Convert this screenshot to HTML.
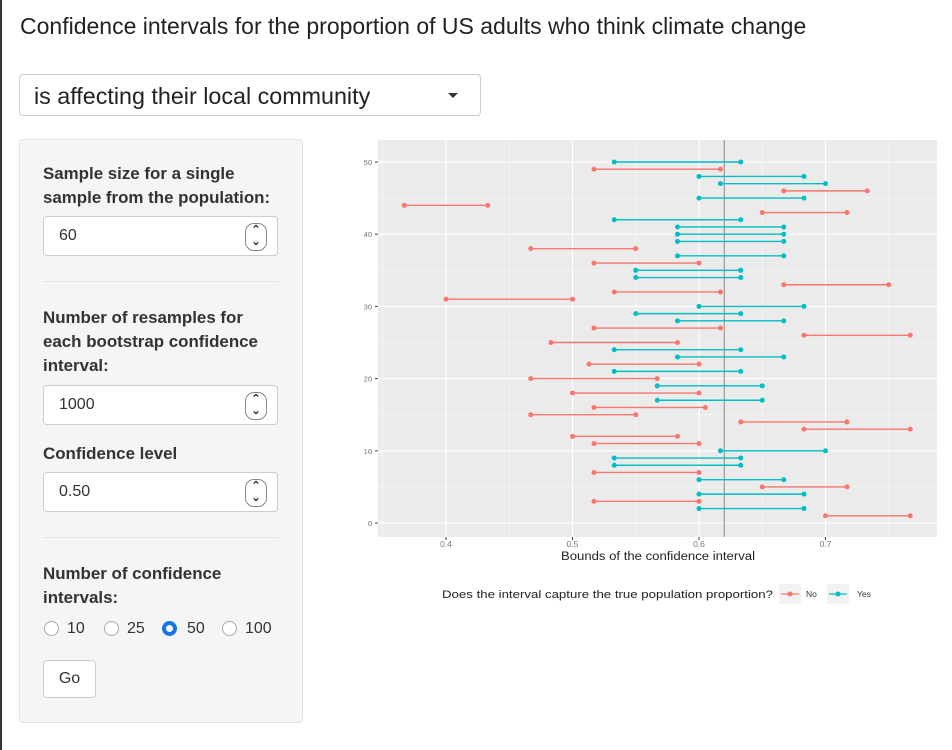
<!DOCTYPE html>
<html><head><meta charset="utf-8">
<style>
body{margin:0;width:952px;height:750px;background:#fff;font-family:"Liberation Sans",sans-serif;position:relative;overflow:hidden;color:#333}
.abs{position:absolute}
.lbl{position:absolute;left:43px;font-weight:bold;font-size:16.9px;line-height:24px;color:#333;white-space:nowrap}
.inp{position:absolute;left:43px;width:235px;height:40px;border:1px solid #ccc;border-radius:4px;background:#fff;box-sizing:border-box}
.inp span{position:absolute;left:15px;top:10px;font-size:16px}
.spin{position:absolute;right:10px;top:6px;width:20px;height:26px;border:1px solid #888;border-radius:9px;font-size:11px;font-weight:bold;text-align:center;line-height:12px;background:#fff}
.hr{position:absolute;left:43px;width:235px;height:1px;background:#e5e5e5}
.radio{position:absolute;top:621px;width:15px;height:15px;border:1px solid #aaa;border-radius:50%;background:#fff;box-sizing:border-box}
.rl{position:absolute;top:620px;font-size:16px}
</style></head><body>
<div class="abs" style="left:0;top:0;width:2px;height:750px;background:#333"></div>
<div class="abs" style="left:20px;top:13px;font-size:23px;color:#222;white-space:nowrap">Confidence intervals for the proportion of US adults who think climate change</div>
<div class="abs" style="left:19px;top:74px;width:462px;height:42px;border:1px solid #ccc;border-radius:4px;box-sizing:border-box">
<span class="abs" style="left:14px;top:8px;font-size:23.3px;color:#222;white-space:nowrap">is affecting their local community</span>
<span class="abs" style="left:428px;top:18px;width:0;height:0;border-left:5px solid transparent;border-right:5px solid transparent;border-top:5px solid #333"></span>
</div>
<div class="abs" style="left:19px;top:139px;width:284px;height:584px;background:#f5f5f5;border:1px solid #e3e3e3;border-radius:4px;box-sizing:border-box"></div>
<div class="lbl" style="top:162px">Sample size for a single<br>sample from the population:</div>
<div class="inp" style="top:216px"><span>60</span><div class="spin">&#8963;<br>&#8964;</div></div>
<div class="hr" style="top:281px"></div>
<div class="lbl" style="top:306px">Number of resamples for<br>each bootstrap confidence<br>interval:</div>
<div class="inp" style="top:385px"><span>1000</span><div class="spin">&#8963;<br>&#8964;</div></div>
<div class="lbl" style="top:442px">Confidence level</div>
<div class="inp" style="top:472px"><span>0.50</span><div class="spin">&#8963;<br>&#8964;</div></div>
<div class="hr" style="top:537px"></div>
<div class="lbl" style="top:562px">Number of confidence<br>intervals:</div>
<div class="radio" style="left:44px"></div><span class="rl" style="left:67px">10</span>
<div class="radio" style="left:104px"></div><span class="rl" style="left:127px">25</span>
<div class="radio" style="left:162px;border:4.5px solid #1a73e8"></div><span class="rl" style="left:187px">50</span>
<div class="radio" style="left:222px"></div><span class="rl" style="left:245px">100</span>
<div class="abs" style="left:43px;top:660px;width:53px;height:38px;border:1px solid #ccc;border-radius:4px;background:#fff;box-sizing:border-box;font-size:16px;text-align:center;line-height:36px">Go</div>

<svg class="abs" style="left:0;top:0" width="952" height="750" id="chart"></svg>
<script>
const rowIds=[50,49,48,47,46,45,44,43,42,41,40,39,38,37,36,35,34,33,32,31,30,29,28,27,26,25,24,23,22,21,20,19,18,17,16,15,14,13,12,11,10,9,8,7,6,5,4,3,2,1];
const lowers=[0.533,0.517,0.6,0.617,0.667,0.6,0.367,0.65,0.533,0.583,0.583,0.583,0.467,0.583,0.517,0.55,0.55,0.667,0.533,0.4,0.6,0.55,0.583,0.517,0.683,0.483,0.533,0.583,0.513,0.533,0.467,0.567,0.5,0.567,0.517,0.467,0.633,0.683,0.5,0.517,0.617,0.533,0.533,0.517,0.6,0.65,0.6,0.517,0.6,0.7];
const uppers=[0.633,0.617,0.683,0.7,0.733,0.683,0.433,0.717,0.633,0.667,0.667,0.667,0.55,0.667,0.6,0.633,0.633,0.75,0.617,0.5,0.683,0.633,0.667,0.617,0.767,0.583,0.633,0.667,0.6,0.633,0.567,0.65,0.6,0.65,0.605,0.55,0.717,0.767,0.583,0.6,0.7,0.633,0.633,0.6,0.667,0.717,0.683,0.6,0.683,0.767];
const captures=["Yes","No","Yes","Yes","No","Yes","No","No","Yes","Yes","Yes","Yes","No","Yes","No","Yes","Yes","No","No","No","Yes","Yes","Yes","No","No","No","Yes","Yes","No","Yes","No","Yes","No","Yes","No","No","No","No","No","No","Yes","Yes","Yes","No","Yes","No","Yes","No","Yes","No"];
const xTicks=[0.4,0.5,0.6,0.7];
const yTicks=[0,10,20,30,40,50];
const trueP=0.62;
const NS="http://www.w3.org/2000/svg";
const svg=document.getElementById('chart');
const X0=378,X1=937,Y0=140,Y1=537;
const xs=v=>446+(v-0.4)*1265;
const ys=v=>523-v*7.22;
function mk(t,a,p){const e=document.createElementNS(NS,t);for(const k in a)e.setAttribute(k,a[k]);(p||svg).appendChild(e);return e;}
const bg=mk('rect',{x:X0,y:Y0,width:X1-X0,height:Y1-Y0,fill:'#ebebeb'});


for(let v=0.35;v<0.8;v+=0.1){mk('line',{x1:xs(v),x2:xs(v),y1:Y0,y2:Y1,stroke:'#f7f7f7','stroke-width':0.6});}
for(let v=5;v<=55;v+=10){if(ys(v)>Y0)mk('line',{x1:X0,x2:X1,y1:ys(v),y2:ys(v),stroke:'#f7f7f7','stroke-width':0.6});}
xTicks.forEach(v=>{mk('line',{x1:xs(v),x2:xs(v),y1:Y0,y2:Y1,stroke:'#fff','stroke-width':1.1});
mk('line',{x1:xs(v),x2:xs(v),y1:Y1,y2:Y1+3,stroke:'#444'});
const t=mk('text',{x:xs(v),y:Y1+10,'font-size':8.5,fill:'#777','text-anchor':'middle'});t.textContent=v.toFixed(1);

});
yTicks.forEach(v=>{mk('line',{x1:X0,x2:X1,y1:ys(v),y2:ys(v),stroke:'#fff','stroke-width':1.1});
mk('line',{x1:X0-3,x2:X0,y1:ys(v),y2:ys(v),stroke:'#444'});
const t=mk('text',{x:X0-6,y:ys(v)+3,'font-size':7.5,fill:'#777','text-anchor':'end'});t.textContent=v;

});
const tl=mk('line',{x1:xs(trueP),x2:xs(trueP),y1:Y0,y2:Y1,stroke:'#999','stroke-width':1.2});


const col={No:'#f8766d',Yes:'#00bfc4'};
rowIds.forEach((r,i)=>{const c=col[captures[i]];const g=mk('g',{});


mk('line',{x1:xs(lowers[i]),x2:xs(uppers[i]),y1:ys(r),y2:ys(r),stroke:c,'stroke-width':1.4},g);
mk('circle',{cx:xs(lowers[i]),cy:ys(r),r:2.5,fill:c},g);
mk('circle',{cx:xs(uppers[i]),cy:ys(r),r:2.5,fill:c},g);});
const xt=mk('text',{x:561,y:560,'font-size':11.5,fill:'#222',textLength:194,lengthAdjust:'spacingAndGlyphs'});xt.textContent='Bounds of the confidence interval';


const lt=mk('text',{x:442,y:598,'font-size':11,fill:'#222',textLength:331,lengthAdjust:'spacingAndGlyphs'});lt.textContent='Does the interval capture the true population proportion?';


[['No',781,806],['Yes',829,857]].forEach(([k,x,tx])=>{const g=mk('g',{});


mk('rect',{x:x-2,y:584,width:22,height:20,fill:'#f2f2f2'},g);
mk('line',{x1:x,x2:x+18,y1:594,y2:594,stroke:col[k],'stroke-width':1.3},g);
mk('circle',{cx:x+9,cy:594,r:2.5,fill:col[k]},g);
const t=mk('text',{x:tx,y:597,'font-size':8.5,fill:'#333'},g);t.textContent=k;});
</script>
</body></html>
